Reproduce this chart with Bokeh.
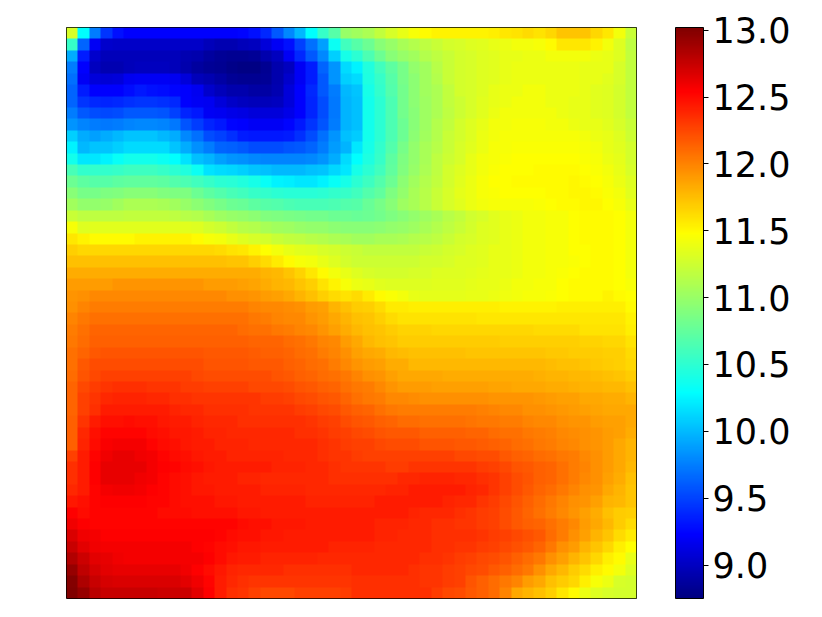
import numpy as np
from bokeh.embed import file_html
from bokeh.resources import INLINE
from bokeh.plotting import figure
from bokeh.models import LinearColorMapper, ColorBar, FixedTicker, PrintfTickFormatter

vmin = 8.75
vmax = 13.02
tick_values = [9.0, 9.5, 10.0, 10.5, 11.0, 11.5, 12.0, 12.5, 13.0]

jet_stops = [(0, 0, 128), (0, 0, 255), (0, 128, 255), (0, 255, 255), (128, 255, 128),
             (255, 255, 0), (255, 128, 0), (255, 0, 0), (128, 0, 0)]
jet_pos = [0.0, 0.11, 0.235, 0.36, 0.5, 0.64, 0.765, 0.89, 1.0]

# rows top to bottom, columns left to right
heat_rows = [
[11.30,10.30,9.75,9.45,9.30,9.22,9.22,9.22,9.22,9.22, 9.22,9.22,9.22,9.22,9.22,9.25,9.30,9.40,9.60,9.80, 10.00,10.30,10.55,10.70,11.00,11.05,11.10,11.20,11.30,11.38, 11.45,11.50,11.52,11.52,11.52,11.52,11.52,11.55,11.58,11.60, 11.62,11.60,11.65,11.72,11.73,11.73,11.65,11.57,11.42,11.22],
[10.55,9.65,9.20,9.05,9.02,9.02,9.02,9.02,9.02,9.02, 9.02,9.02,8.98,8.95,8.95,8.97,9.00,9.10,9.20,9.30, 9.50,9.70,9.90,10.35,10.60,10.70,10.80,10.92,11.00,11.08, 11.12,11.18,11.22,11.27,11.30,11.32,11.35,11.38,11.40,11.42, 11.43,11.45,11.50,11.57,11.58,11.58,11.52,11.43,11.33,11.18],
[9.95,9.35,9.05,8.97,8.97,8.97,8.97,8.97,8.97,8.97, 8.95,8.92,8.88,8.85,8.83,8.82,8.85,8.92,9.00,9.20, 9.40,9.60,9.80,10.10,10.40,10.50,10.65,10.80,10.92,11.00, 11.05,11.12,11.18,11.22,11.27,11.30,11.33,11.35,11.37,11.38, 11.40,11.40,11.42,11.42,11.43,11.43,11.40,11.38,11.32,11.20],
[9.75,9.22,9.00,8.95,8.95,8.97,9.00,9.00,9.00,8.97, 8.92,8.88,8.85,8.82,8.80,8.78,8.78,8.82,8.92,9.00, 9.20,9.35,9.65,9.85,10.15,10.25,10.45,10.60,10.72,10.85, 10.97,11.05,11.15,11.22,11.27,11.30,11.33,11.35,11.38,11.40, 11.40,11.40,11.40,11.40,11.40,11.38,11.37,11.37,11.30,11.20],
[9.70,9.20,9.10,9.08,9.10,9.18,9.20,9.20,9.20,9.18, 9.10,8.98,8.95,8.90,8.85,8.82,8.82,8.85,8.92,9.05, 9.20,9.35,9.60,9.85,10.10,10.15,10.42,10.55,10.70,10.85, 10.95,11.05,11.12,11.22,11.27,11.30,11.33,11.35,11.38,11.40, 11.40,11.40,11.40,11.40,11.40,11.38,11.37,11.35,11.30,11.20],
[9.65,9.35,9.22,9.22,9.22,9.28,9.32,9.30,9.28,9.25, 9.22,9.18,9.05,8.97,8.92,8.92,8.90,8.90,8.95,9.10, 9.22,9.40,9.60,9.75,10.00,10.05,10.40,10.52,10.68,10.82, 10.95,11.05,11.10,11.20,11.27,11.30,11.33,11.37,11.40,11.40, 11.42,11.42,11.40,11.40,11.40,11.38,11.35,11.33,11.28,11.20],
[9.65,9.45,9.40,9.37,9.40,9.42,9.45,9.45,9.42,9.40, 9.22,9.20,9.18,9.10,9.02,9.00,8.98,8.98,9.00,9.10, 9.22,9.38,9.55,9.72,9.98,10.03,10.38,10.50,10.65,10.82, 10.95,11.03,11.10,11.20,11.25,11.30,11.35,11.38,11.40,11.42, 11.42,11.42,11.40,11.40,11.38,11.37,11.35,11.33,11.28,11.20],
[9.75,9.60,9.55,9.52,9.55,9.60,9.60,9.60,9.58,9.50, 9.38,9.32,9.20,9.18,9.15,9.12,9.10,9.10,9.10,9.15, 9.22,9.38,9.55,9.72,9.98,10.03,10.38,10.50,10.65,10.82, 10.93,11.03,11.10,11.18,11.25,11.30,11.35,11.40,11.42,11.43, 11.43,11.43,11.42,11.40,11.38,11.37,11.35,11.33,11.28,11.20],
[9.85,9.78,9.75,9.72,9.75,9.78,9.80,9.80,9.78,9.72, 9.58,9.48,9.38,9.32,9.25,9.22,9.20,9.20,9.20,9.25, 9.32,9.45,9.58,9.75,9.98,10.03,10.38,10.50,10.65,10.80, 10.93,11.03,11.12,11.20,11.27,11.33,11.38,11.42,11.43,11.44, 11.44,11.44,11.42,11.42,11.40,11.38,11.37,11.35,11.30,11.22],
[10.10,9.95,9.90,9.95,10.00,10.05,10.05,10.05,10.00,9.95, 9.80,9.70,9.55,9.50,9.42,9.35,9.32,9.32,9.32,9.35, 9.42,9.55,9.70,9.85,10.02,10.08,10.38,10.50,10.65,10.80, 10.95,11.05,11.12,11.22,11.28,11.33,11.40,11.43,11.44,11.45, 11.45,11.45,11.44,11.44,11.44,11.42,11.40,11.37,11.33,11.25],
[10.25,10.00,10.05,10.05,10.10,10.15,10.15,10.15,10.15,10.05, 9.95,9.83,9.75,9.65,9.62,9.60,9.55,9.55,9.55,9.57, 9.60,9.65,9.75,9.88,9.97,10.20,10.40,10.52,10.68,10.85, 10.97,11.07,11.15,11.23,11.30,11.35,11.40,11.44,11.45,11.46, 11.46,11.46,11.46,11.46,11.46,11.44,11.42,11.38,11.35,11.27],
[10.38,10.20,10.20,10.25,10.32,10.37,10.38,10.38,10.35,10.30, 10.18,10.03,9.98,9.90,9.85,9.83,9.80,9.78,9.77,9.77, 9.77,9.80,9.85,9.95,10.15,10.30,10.42,10.55,10.72,10.87, 10.98,11.08,11.17,11.25,11.30,11.37,11.42,11.45,11.46,11.47, 11.47,11.48,11.48,11.48,11.48,11.46,11.44,11.40,11.36,11.28],
[10.62,10.53,10.52,10.53,10.55,10.58,10.58,10.58,10.55,10.50, 10.45,10.35,10.17,10.15,10.12,10.10,10.05,10.02,10.00,10.00, 10.00,10.02,10.05,10.12,10.20,10.40,10.50,10.60,10.75,10.90, 11.00,11.10,11.18,11.27,11.33,11.38,11.43,11.46,11.47,11.48, 11.48,11.49,11.50,11.50,11.50,11.48,11.46,11.42,11.38,11.30],
[10.80,10.72,10.70,10.70,10.72,10.75,10.75,10.75,10.72,10.68, 10.65,10.60,10.55,10.50,10.47,10.45,10.40,10.32,10.25,10.22, 10.20,10.20,10.25,10.32,10.40,10.50,10.57,10.67,10.80,10.95, 11.05,11.13,11.20,11.28,11.35,11.40,11.44,11.47,11.48,11.49, 11.49,11.49,11.50,11.50,11.51,11.50,11.48,11.44,11.40,11.33],
[10.93,10.85,10.85,10.87,10.90,10.93,10.93,10.93,10.90,10.88, 10.87,10.80,10.72,10.68,10.63,10.60,10.55,10.52,10.50,10.48, 10.48,10.48,10.50,10.52,10.55,10.60,10.68,10.75,10.87,10.98, 11.07,11.15,11.22,11.30,11.36,11.40,11.44,11.46,11.47,11.47, 11.47,11.48,11.49,11.50,11.51,11.51,11.50,11.46,11.42,11.35],
[11.05,10.98,10.98,11.00,11.05,11.10,11.10,11.10,11.08,11.05, 11.00,10.95,10.90,10.85,10.80,10.77,10.73,10.70,10.67,10.65, 10.62,10.62,10.63,10.65,10.67,10.70,10.77,10.85,10.93,11.02, 11.08,11.15,11.22,11.30,11.35,11.39,11.42,11.44,11.45,11.45, 11.45,11.46,11.47,11.49,11.50,11.51,11.51,11.48,11.44,11.38],
[11.22,11.17,11.17,11.17,11.18,11.20,11.20,11.20,11.20,11.18, 11.15,11.12,11.08,11.02,11.00,10.98,10.95,10.90,10.88,10.86, 10.85,10.83,10.82,10.80,10.80,10.78,10.80,10.83,10.88,10.92, 10.97,11.03,11.08,11.14,11.20,11.26,11.30,11.34,11.37,11.39, 11.42,11.43,11.44,11.45,11.47,11.50,11.50,11.50,11.48,11.43],
[11.45,11.32,11.35,11.35,11.35,11.35,11.35,11.35,11.35,11.35, 11.35,11.32,11.28,11.25,11.20,11.15,11.12,11.08,11.05,11.02, 11.00,10.98,10.97,10.95,10.93,10.92,10.93,10.95,10.97,11.00, 11.03,11.08,11.13,11.18,11.22,11.27,11.32,11.35,11.37,11.40, 11.42,11.43,11.44,11.45,11.47,11.50,11.50,11.50,11.48,11.43],
[11.57,11.52,11.50,11.50,11.50,11.50,11.52,11.52,11.52,11.52, 11.52,11.50,11.45,11.42,11.38,11.33,11.30,11.27,11.23,11.20, 11.17,11.15,11.12,11.10,11.07,11.05,11.05,11.07,11.08,11.10, 11.12,11.15,11.18,11.22,11.27,11.30,11.33,11.35,11.37,11.40, 11.42,11.43,11.44,11.45,11.47,11.50,11.50,11.50,11.48,11.43],
[11.68,11.65,11.65,11.65,11.65,11.65,11.65,11.65,11.65,11.65, 11.65,11.65,11.65,11.62,11.60,11.58,11.52,11.48,11.42,11.38, 11.35,11.33,11.30,11.27,11.25,11.22,11.20,11.20,11.20,11.20, 11.20,11.22,11.25,11.27,11.30,11.32,11.35,11.37,11.38,11.40, 11.42,11.43,11.44,11.45,11.47,11.48,11.50,11.50,11.48,11.43],
[11.75,11.75,11.75,11.75,11.75,11.75,11.75,11.75,11.75,11.75, 11.75,11.75,11.75,11.75,11.73,11.72,11.68,11.62,11.56,11.50, 11.45,11.42,11.38,11.33,11.28,11.25,11.25,11.25,11.25,11.25, 11.25,11.27,11.28,11.30,11.32,11.33,11.35,11.37,11.38,11.40, 11.42,11.43,11.44,11.45,11.46,11.48,11.50,11.50,11.48,11.43],
[11.83,11.83,11.83,11.83,11.83,11.83,11.83,11.83,11.83,11.83, 11.83,11.83,11.83,11.83,11.83,11.83,11.82,11.80,11.77,11.73, 11.66,11.58,11.50,11.42,11.38,11.33,11.30,11.28,11.28,11.28, 11.30,11.30,11.32,11.33,11.33,11.35,11.36,11.37,11.38,11.40, 11.42,11.43,11.44,11.46,11.48,11.50,11.50,11.50,11.48,11.43],
[11.90,11.90,11.90,11.90,11.92,11.92,11.92,11.92,11.92,11.92, 11.92,11.92,11.90,11.90,11.90,11.88,11.86,11.83,11.80,11.78, 11.73,11.68,11.60,11.52,11.45,11.40,11.37,11.34,11.32,11.32, 11.33,11.33,11.34,11.35,11.35,11.36,11.37,11.38,11.40,11.42, 11.43,11.44,11.45,11.47,11.49,11.50,11.50,11.50,11.48,11.44],
[11.92,11.95,11.97,11.97,11.98,11.98,11.98,11.98,11.98,11.98, 11.98,11.98,11.97,11.97,11.95,11.95,11.93,11.90,11.87,11.84, 11.80,11.75,11.68,11.62,11.60,11.62,11.56,11.50,11.46,11.42, 11.38,11.36,11.36,11.36,11.36,11.38,11.38,11.40,11.41,11.43, 11.44,11.45,11.46,11.48,11.50,11.50,11.50,11.52,11.50,11.47],
[11.95,12.00,12.02,12.02,12.02,12.02,12.02,12.02,12.02,12.02, 12.02,12.02,12.02,12.02,12.02,12.02,12.00,11.98,11.97,11.96, 11.95,11.90,11.87,11.80,11.75,11.70,11.67,11.63,11.56,11.56, 11.55,11.55,11.55,11.55,11.55,11.55,11.55,11.55,11.53,11.53, 11.53,11.53,11.53,11.54,11.54,11.54,11.54,11.54,11.54,11.50],
[12.00,12.05,12.08,12.08,12.08,12.08,12.08,12.08,12.08,12.08, 12.08,12.08,12.08,12.08,12.08,12.07,12.05,12.03,12.00,11.98, 11.97,11.93,11.90,11.85,11.80,11.75,11.72,11.68,11.62,11.60, 11.60,11.60,11.60,11.60,11.60,11.60,11.58,11.58,11.58,11.58, 11.58,11.58,11.58,11.57,11.57,11.57,11.57,11.57,11.57,11.53],
[12.03,12.08,12.12,12.12,12.12,12.12,12.12,12.12,12.12,12.12, 12.12,12.12,12.12,12.12,12.12,12.10,12.08,12.07,12.05,12.03, 12.00,11.97,11.93,11.88,11.83,11.78,11.75,11.72,11.70,11.66, 11.66,11.66,11.65,11.65,11.65,11.65,11.65,11.65,11.65,11.65, 11.65,11.63,11.63,11.62,11.62,11.60,11.60,11.60,11.60,11.55],
[12.05,12.10,12.15,12.15,12.15,12.15,12.15,12.15,12.15,12.15, 12.15,12.15,12.15,12.15,12.15,12.15,12.13,12.12,12.12,12.10, 12.08,12.05,12.00,11.97,11.90,11.85,11.78,11.75,11.72,11.70, 11.70,11.70,11.70,11.70,11.70,11.70,11.70,11.69,11.68,11.68, 11.68,11.68,11.67,11.67,11.67,11.66,11.66,11.65,11.65,11.60],
[12.07,12.13,12.18,12.20,12.20,12.20,12.20,12.20,12.20,12.20, 12.20,12.20,12.18,12.18,12.18,12.17,12.16,12.15,12.14,12.13, 12.10,12.07,12.03,12.00,11.95,11.88,11.85,11.82,11.78,11.76, 11.75,11.75,11.75,11.74,11.74,11.73,11.73,11.73,11.72,11.72, 11.72,11.72,11.71,11.71,11.70,11.70,11.70,11.68,11.68,11.63],
[12.08,12.17,12.22,12.23,12.23,12.23,12.23,12.23,12.23,12.23, 12.22,12.22,12.20,12.20,12.20,12.20,12.18,12.17,12.17,12.15, 12.13,12.10,12.07,12.03,11.98,11.92,11.90,11.87,11.83,11.82, 11.78,11.78,11.78,11.78,11.78,11.78,11.78,11.78,11.78,11.78, 11.78,11.77,11.76,11.75,11.74,11.72,11.71,11.70,11.68,11.65],
[12.10,12.20,12.25,12.27,12.27,12.27,12.27,12.27,12.27,12.27, 12.27,12.25,12.23,12.23,12.23,12.23,12.23,12.22,12.20,12.18, 12.15,12.13,12.10,12.07,12.04,12.00,11.95,11.92,11.88,11.85, 11.84,11.84,11.84,11.83,11.83,11.83,11.83,11.83,11.83,11.83, 11.82,11.81,11.80,11.79,11.78,11.77,11.76,11.75,11.73,11.70],
[12.12,12.25,12.30,12.33,12.35,12.35,12.35,12.33,12.33,12.32, 12.30,12.30,12.28,12.27,12.27,12.27,12.25,12.25,12.25,12.23, 12.20,12.18,12.15,12.12,12.08,12.05,12.02,11.97,11.93,11.90, 11.90,11.89,11.88,11.88,11.87,11.87,11.87,11.86,11.86,11.85, 11.85,11.84,11.83,11.82,11.81,11.80,11.79,11.78,11.77,11.75],
[12.13,12.27,12.33,12.38,12.40,12.40,12.40,12.38,12.37,12.35, 12.35,12.33,12.33,12.33,12.33,12.32,12.32,12.30,12.30,12.27, 12.25,12.22,12.20,12.18,12.13,12.08,12.05,12.03,11.98,11.97, 11.96,11.95,11.95,11.95,11.95,11.94,11.94,11.93,11.93,11.92, 11.92,11.91,11.90,11.88,11.87,11.85,11.84,11.83,11.82,11.80],
[12.13,12.28,12.35,12.42,12.42,12.42,12.42,12.42,12.42,12.40, 12.38,12.37,12.35,12.35,12.35,12.35,12.33,12.33,12.33,12.32, 12.30,12.28,12.25,12.22,12.18,12.15,12.12,12.08,12.05,12.03, 12.03,12.02,12.02,12.02,12.02,12.02,12.01,12.00,11.98,11.97, 11.95,11.94,11.93,11.91,11.90,11.87,11.86,11.85,11.85,11.85],
[12.15,12.33,12.42,12.47,12.48,12.50,12.48,12.48,12.45,12.43, 12.42,12.40,12.38,12.37,12.37,12.35,12.35,12.35,12.35,12.35, 12.35,12.33,12.30,12.27,12.23,12.20,12.17,12.15,12.12,12.10, 12.10,12.08,12.08,12.07,12.07,12.06,12.05,12.04,12.03,12.02, 12.00,11.98,11.97,11.95,11.93,11.92,11.90,11.88,11.87,11.85],
[12.15,12.38,12.47,12.52,12.53,12.53,12.52,12.50,12.47,12.45, 12.45,12.42,12.40,12.40,12.38,12.38,12.38,12.38,12.37,12.37, 12.35,12.35,12.33,12.30,12.28,12.25,12.22,12.20,12.18,12.17, 12.17,12.15,12.15,12.14,12.14,12.13,12.12,12.10,12.08,12.07, 12.05,12.03,12.01,11.98,11.96,11.95,11.92,11.90,11.87,11.83],
[12.15,12.40,12.50,12.56,12.58,12.58,12.57,12.53,12.50,12.47, 12.45,12.43,12.42,12.40,12.40,12.40,12.38,12.38,12.38,12.38, 12.37,12.37,12.35,12.33,12.30,12.28,12.27,12.25,12.23,12.22, 12.22,12.20,12.20,12.20,12.18,12.18,12.16,12.15,12.13,12.10, 12.08,12.05,12.03,12.00,11.98,11.95,11.93,11.90,11.85,11.80],
[12.27,12.42,12.52,12.60,12.62,12.62,12.60,12.57,12.53,12.50, 12.47,12.45,12.43,12.42,12.40,12.40,12.40,12.40,12.40,12.38, 12.38,12.37,12.35,12.33,12.32,12.30,12.28,12.27,12.27,12.27, 12.27,12.27,12.27,12.27,12.25,12.25,12.23,12.22,12.18,12.15, 12.13,12.10,12.07,12.05,12.02,11.98,11.95,11.90,11.85,11.80],
[12.35,12.43,12.55,12.62,12.63,12.63,12.62,12.58,12.55,12.52, 12.50,12.47,12.45,12.43,12.42,12.42,12.42,12.42,12.40,12.40, 12.40,12.38,12.38,12.35,12.33,12.32,12.32,12.32,12.30,12.30, 12.33,12.33,12.33,12.33,12.33,12.32,12.30,12.28,12.25,12.20, 12.17,12.15,12.12,12.08,12.03,12.00,11.95,11.90,11.85,11.78],
[12.35,12.43,12.55,12.62,12.63,12.63,12.60,12.57,12.53,12.50, 12.47,12.45,12.43,12.43,12.42,12.40,12.40,12.38,12.38,12.38, 12.37,12.37,12.37,12.35,12.35,12.35,12.35,12.35,12.35,12.37, 12.38,12.40,12.40,12.40,12.38,12.37,12.35,12.33,12.28,12.23, 12.20,12.15,12.12,12.08,12.03,11.98,11.95,11.88,11.83,11.75],
[12.37,12.43,12.53,12.58,12.60,12.60,12.58,12.55,12.52,12.50, 12.47,12.45,12.45,12.43,12.43,12.42,12.42,12.40,12.40,12.40, 12.40,12.38,12.38,12.38,12.38,12.38,12.38,12.38,12.40,12.40, 12.42,12.43,12.43,12.42,12.42,12.40,12.37,12.33,12.28,12.22, 12.18,12.13,12.10,12.05,12.00,11.95,11.92,11.85,11.80,11.73],
[12.45,12.47,12.53,12.55,12.55,12.55,12.55,12.53,12.52,12.50, 12.48,12.47,12.47,12.45,12.45,12.43,12.43,12.42,12.42,12.42, 12.42,12.40,12.40,12.40,12.40,12.40,12.40,12.42,12.42,12.42, 12.43,12.43,12.42,12.40,12.38,12.37,12.33,12.30,12.25,12.20, 12.15,12.10,12.05,12.00,11.95,11.92,11.87,11.80,11.77,11.72],
[12.55,12.50,12.53,12.53,12.53,12.53,12.53,12.52,12.50,12.50, 12.50,12.48,12.48,12.47,12.47,12.45,12.45,12.43,12.43,12.43, 12.43,12.43,12.43,12.42,12.42,12.42,12.42,12.42,12.42,12.42, 12.40,12.38,12.38,12.37,12.35,12.33,12.30,12.27,12.22,12.17, 12.13,12.08,12.03,11.97,11.92,11.87,11.82,11.75,11.70,11.68],
[12.60,12.55,12.53,12.53,12.53,12.53,12.53,12.53,12.53,12.53, 12.53,12.53,12.53,12.52,12.52,12.50,12.48,12.47,12.45,12.45, 12.45,12.43,12.43,12.42,12.42,12.42,12.42,12.40,12.40,12.40, 12.38,12.37,12.35,12.35,12.33,12.33,12.30,12.27,12.23,12.18, 12.15,12.12,12.08,12.03,11.97,11.90,11.85,11.78,11.70,11.62],
[12.67,12.60,12.57,12.55,12.55,12.55,12.55,12.55,12.55,12.55, 12.55,12.55,12.55,12.52,12.50,12.47,12.47,12.45,12.45,12.43, 12.43,12.42,12.42,12.42,12.42,12.42,12.42,12.40,12.40,12.38, 12.37,12.37,12.35,12.35,12.35,12.35,12.33,12.30,12.27,12.25, 12.21,12.17,12.10,12.02,11.95,11.88,11.80,11.72,11.62,11.56],
[12.75,12.65,12.60,12.58,12.58,12.58,12.58,12.58,12.58,12.58, 12.58,12.55,12.53,12.50,12.47,12.45,12.45,12.43,12.43,12.42, 12.42,12.42,12.42,12.40,12.40,12.40,12.40,12.38,12.38,12.38, 12.37,12.37,12.35,12.35,12.33,12.33,12.30,12.27,12.25,12.21, 12.17,12.12,12.05,11.95,11.90,11.80,11.73,11.65,11.55,11.47],
[12.82,12.72,12.65,12.62,12.60,12.58,12.58,12.58,12.58,12.58, 12.58,12.58,12.55,12.50,12.45,12.42,12.42,12.40,12.40,12.40, 12.40,12.40,12.38,12.38,12.38,12.38,12.38,12.38,12.37,12.37, 12.37,12.35,12.35,12.33,12.30,12.28,12.25,12.22,12.20,12.15, 12.10,12.05,11.95,11.88,11.80,11.72,11.65,11.55,11.50,11.38],
[12.93,12.78,12.70,12.65,12.63,12.63,12.63,12.63,12.63,12.62, 12.60,12.55,12.50,12.45,12.40,12.38,12.37,12.37,12.37,12.35, 12.35,12.35,12.35,12.35,12.35,12.37,12.37,12.37,12.37,12.37, 12.35,12.33,12.33,12.30,12.28,12.25,12.22,12.18,12.15,12.10, 12.05,11.95,11.85,11.78,11.70,11.62,11.55,11.50,11.42,11.32],
[13.00,12.85,12.75,12.70,12.68,12.68,12.68,12.68,12.68,12.68, 12.65,12.60,12.52,12.43,12.38,12.35,12.33,12.33,12.32,12.32, 12.32,12.32,12.33,12.33,12.33,12.35,12.35,12.35,12.35,12.35, 12.35,12.33,12.33,12.30,12.27,12.20,12.15,12.10,12.05,12.00, 11.90,11.85,11.75,11.70,11.65,11.55,11.45,11.40,11.30,11.28],
[13.02,12.92,12.80,12.75,12.75,12.75,12.75,12.75,12.73,12.73, 12.72,12.65,12.55,12.42,12.35,12.32,12.27,12.25,12.25,12.25, 12.27,12.28,12.28,12.28,12.30,12.35,12.35,12.35,12.35,12.35, 12.35,12.35,12.30,12.25,12.22,12.18,12.15,12.10,12.00,11.85, 11.80,11.75,11.68,11.58,11.50,11.40,11.33,11.30,11.27,11.27],
]

def jet(n=256):
    t = np.linspace(0, 1, n)
    rgb = np.array(jet_stops, dtype=float)
    channels = [np.interp(t, jet_pos, rgb[:, i]) for i in range(3)]
    return ["#%02x%02x%02x" % (int(r), int(g), int(b)) for r, g, b in zip(*channels)]

z = np.flipud(np.array(heat_rows, dtype=float))
n_rows, n_cols = z.shape
print(z.shape)

mapper = LinearColorMapper(palette=jet(), low=vmin, high=vmax)

p = figure(width=806, height=601, output_backend="svg", toolbar_location=None,
           x_range=(0, n_cols), y_range=(0, n_rows),
           frame_width=570, frame_height=571,
           min_border_left=66, min_border_top=27, min_border_bottom=11, min_border_right=0,
           tools="", background_fill_color="white")
p.image(image=[z], x=0, y=0, dw=n_cols, dh=n_rows, color_mapper=mapper)
p.xaxis.visible = False
p.yaxis.visible = False
p.xgrid.visible = False
p.ygrid.visible = False
p.outline_line_color = "black"
p.outline_line_width = 1

bar = ColorBar(color_mapper=mapper, width=28, height=571, location=(39, 0), margin=0, padding=0,
               ticker=FixedTicker(ticks=tick_values),
               formatter=PrintfTickFormatter(format="%.1f"),
               major_label_text_font="DejaVu Sans", major_label_text_font_size="35px",
               major_label_text_color="black",
               major_tick_in=0, major_tick_out=5, major_tick_line_color="black", major_tick_line_width=1,
               minor_tick_line_color=None, bar_line_color="black", bar_line_width=1,
               label_standoff=4, border_line_color=None, background_fill_color=None)
p.add_layout(bar, "right")

open("out.html", "w").write(file_html(p, INLINE))
